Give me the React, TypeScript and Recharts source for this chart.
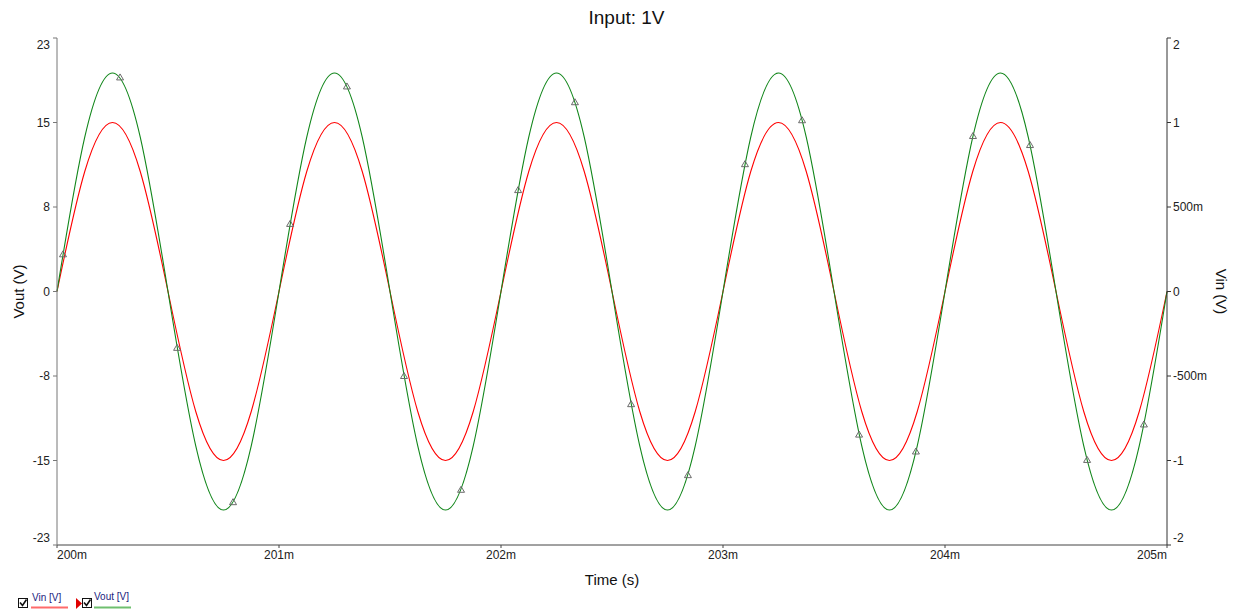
import { ComposedChart, Line, Scatter, XAxis, YAxis } from 'recharts'

// samples every 0.125 ms (8 per cycle of the 1 kHz input)
const time = [
  200, 200.125, 200.25, 200.375, 200.5, 200.625, 200.75, 200.875,
  201, 201.125, 201.25, 201.375, 201.5, 201.625, 201.75, 201.875,
  202, 202.125, 202.25, 202.375, 202.5, 202.625, 202.75, 202.875,
  203, 203.125, 203.25, 203.375, 203.5, 203.625, 203.75, 203.875,
  204, 204.125, 204.25, 204.375, 204.5, 204.625, 204.75, 204.875,
  205,
]
const vin = [
  0, 0.71, 1, 0.71, 0, -0.71, -1, -0.71,
  0, 0.71, 1, 0.71, 0, -0.71, -1, -0.71,
  0, 0.71, 1, 0.71, 0, -0.71, -1, -0.71,
  0, 0.71, 1, 0.71, 0, -0.71, -1, -0.71,
  0, 0.71, 1, 0.71, 0, -0.71, -1, -0.71,
  0,
]
const vout = [
  0, 13.7, 19.4, 13.7, 0, -13.7, -19.4, -13.7,
  0, 13.7, 19.4, 13.7, 0, -13.7, -19.4, -13.7,
  0, 13.7, 19.4, 13.7, 0, -13.7, -19.4, -13.7,
  0, 13.7, 19.4, 13.7, 0, -13.7, -19.4, -13.7,
  0, 13.7, 19.4, 13.7, 0, -13.7, -19.4, -13.7,
  0,
]

// triangle markers the simulator puts on the Vout trace
const markerTime = [
  200.027, 200.284, 200.541, 200.793, 201.05, 201.306, 201.563, 201.82, 202.077, 202.333,
  202.586, 202.842, 203.099, 203.356, 203.613, 203.869, 204.126, 204.383, 204.64, 204.896,
]
const markerVout = [
  3.3, 19.0, -5.0, -18.7, 6.0, 18.2, -7.5, -17.6, 9.0, 16.8,
  -10.0, -16.3, 11.3, 15.2, -12.7, -14.2, 13.8, 13.0, -14.95, -11.8,
]

const xTicks = [200, 201, 202, 203, 204, 205]
const xLabels = ['200m', '201m', '202m', '203m', '204m', '205m']
const leftTicks = [-22.5, -15, -7.5, 0, 7.5, 15, 22.5]
const leftLabels = ['-23', '-15', '-8', '0', '8', '15', '23']
const rightTicks = [-1.5, -1, -0.5, 0, 0.5, 1, 1.5]
const rightLabels = ['-2', '-1', '-500m', '0', '500m', '1', '2']

const data = time.map((t, i) => ({ t, vin: vin[i], vout: vout[i] }))
const markers = markerTime.map((t, i) => ({ t, vout: markerVout[i] }))

const FONT = "'Liberation Sans', Arial, sans-serif"

// eslint-disable-next-line @typescript-eslint/no-explicit-any
function YTick({ x, y, payload, ticks, labels, side }: any) {
  const idx = ticks.indexOf(payload.value)
  const shift = idx === ticks.length - 1 ? 7 : idx === 0 ? -7 : 0
  return (
    <text
      x={side === 'left' ? x - 1 : x}
      y={y + shift}
      dy="0.35em"
      textAnchor={side === 'left' ? 'end' : 'start'}
      fontFamily={FONT}
      fontSize={12}
      fill="#222"
    >
      {labels[idx]}
    </text>
  )
}

// eslint-disable-next-line @typescript-eslint/no-explicit-any
function XTick({ x, y, payload }: any) {
  const idx = xTicks.indexOf(payload.value)
  const anchor = idx === 0 ? 'start' : idx === xTicks.length - 1 ? 'end' : 'middle'
  return (
    <text x={x} y={y} dy="0.71em" textAnchor={anchor} fontFamily={FONT} fontSize={12} fill="#222">
      {xLabels[idx]}
    </text>
  )
}

// eslint-disable-next-line @typescript-eslint/no-explicit-any
function Triangle({ cx, cy }: any) {
  return (
    <polygon
      points={`${cx},${cy - 3.5} ${cx + 3.5},${cy + 2.5} ${cx - 3.5},${cy + 2.5}`}
      fill="none"
      stroke="#6a6a6a"
      strokeWidth={1}
    />
  )
}

function CheckBox({ x }: { x: number }) {
  return (
    <g>
      <rect x={x + 0.5} y={598.5} width={9} height={9} fill="#fff" stroke="#111" strokeWidth={1} />
      <path d={`M${x + 2},${602.5} L${x + 4.5},${605.5} L${x + 8.5},${599.5}`} fill="none" stroke="#111" strokeWidth={1.6} />
    </g>
  )
}

function LegendBar() {
  return (
    <svg width={200} height={614} style={{ position: 'absolute', left: 0, top: 0, pointerEvents: 'none' }}>
      <CheckBox x={18} />
      <text x={32} y={601} fontFamily={FONT} fontSize={10} fill="#1a237e">Vin [V]</text>
      <line x1={31} y1={607.5} x2={68} y2={607.5} stroke="#ff6b6b" strokeWidth={2} />
      <polygon points="76,598 82,603.5 76,609" fill="#e00000" />
      <CheckBox x={82} />
      <text x={94} y={600} fontFamily={FONT} fontSize={10} fill="#1a237e">Vout [V]</text>
      <line x1={94} y1={607.5} x2={131} y2={607.5} stroke="#6fbf6f" strokeWidth={2} />
    </svg>
  )
}

export default function App() {
  return (
    <div style={{ position: 'absolute', left: 0, top: 0, width: 1237, height: 614, background: '#fff' }}>
      <div style={{
        position: 'absolute', left: 0, top: 7, width: 1237, textAlign: 'center',
        paddingLeft: 16, boxSizing: 'border-box',
        fontFamily: FONT, fontSize: 19, color: '#111',
      }}>
        Input: 1V
      </div>
      <ComposedChart width={1237} height={614} data={data} margin={{ top: 38, right: 0, bottom: 0, left: 0 }}>
        <XAxis
          dataKey="t"
          type="number"
          domain={[200, 205]}
          ticks={xTicks}
          tick={<XTick />}
          tickSize={3}
          stroke="#444"
          height={69}
          label={{ value: 'Time (s)', position: 'center', dy: 0, fontFamily: FONT, fontSize: 15, fill: '#111' }}
        />
        <YAxis
          yAxisId="left"
          orientation="left"
          domain={[-22.5, 22.5]}
          ticks={leftTicks}
          tick={<YTick ticks={leftTicks} labels={leftLabels} side="left" />}
          tickSize={4}
          stroke="#777"
          width={57}
          label={{ value: 'Vout (V)', angle: -90, position: 'center', dx: -10, fontFamily: FONT, fontSize: 15, fill: '#111' }}
        />
        <YAxis
          yAxisId="right"
          orientation="right"
          domain={[-1.5, 1.5]}
          ticks={rightTicks}
          tick={<YTick ticks={rightTicks} labels={rightLabels} side="right" />}
          tickSize={4}
          stroke="#333"
          width={70}
          label={{ value: 'Vin (V)', angle: 90, position: 'center', dx: 19, fontFamily: FONT, fontSize: 15, fill: '#111' }}
        />
        <Line
          yAxisId="right"
          type="natural"
          dataKey="vin"
          stroke="#ff0000"
          strokeWidth={1.1}
          dot={false}
          isAnimationActive={false}
        />
        <Line
          yAxisId="left"
          type="natural"
          dataKey="vout"
          stroke="#11861a"
          strokeWidth={1.1}
          dot={false}
          isAnimationActive={false}
        />
        <Scatter
          yAxisId="left"
          data={markers}
          dataKey="vout"
          shape={<Triangle />}
          isAnimationActive={false}
        />
      </ComposedChart>
      <LegendBar />
    </div>
  )
}
